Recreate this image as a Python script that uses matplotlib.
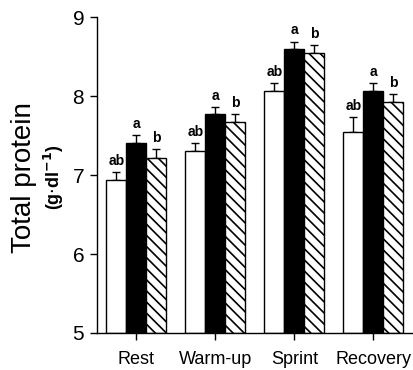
import matplotlib
matplotlib.use("Agg")
import matplotlib.pyplot as plt
import numpy as np

plt.rcParams["font.family"] = ["Liberation Sans", "DejaVu Sans"]
plt.rcParams["hatch.linewidth"] = 1.2

categories = ["Rest", "Warm-up", "Sprint", "Recovery"]
white_vals = [6.94, 7.30, 8.06, 7.54]
white_err = [0.10, 0.10, 0.10, 0.19]
black_vals = [7.40, 7.77, 8.59, 8.06]
black_err = [0.11, 0.09, 0.10, 0.10]
hatch_vals = [7.22, 7.67, 8.54, 7.92]
hatch_err = [0.11, 0.10, 0.10, 0.10]
letters = ["ab", "a", "b"]
yticks = [5, 6, 7, 8, 9]

fig = plt.figure(figsize=(4.14, 3.70), dpi=100)
ax = fig.add_axes([0.2335, 0.10, 0.764, 0.854])

x = np.arange(len(categories))
w = 0.253
series = [
    (white_vals, white_err, "white", ""),
    (black_vals, black_err, "black", ""),
    (hatch_vals, hatch_err, "white", "\\\\\\"),
]
for i, (vals, err, fc, hatch) in enumerate(series):
    pos = x + (i - 1) * w
    ax.bar(pos, np.array(vals) - 5, w, bottom=5, color=fc, edgecolor="black",
           linewidth=1.0, hatch=hatch, zorder=2)
    ax.errorbar(pos, vals, yerr=[np.zeros(len(vals)), err], fmt="none",
                ecolor="black", elinewidth=1.0, capsize=2.8, capthick=1.0, zorder=1)
    for p, v, e in zip(pos, vals, err):
        ax.annotate(letters[i], (p, v + e), xytext=(0, 3), textcoords="offset points",
                    ha="center", va="bottom", fontsize=10, fontweight="bold")

ax.set_xlim(-0.5, 3.5)
ax.set_ylim(5, 9)
ax.set_yticks(yticks)
ax.set_xticks(x)
ax.set_xticklabels(categories, fontsize=13)
ax.tick_params(axis="y", labelsize=15, length=5, width=1, pad=4)
ax.tick_params(axis="x", length=5, width=1, pad=8)
for s in ["top", "right"]:
    ax.spines[s].set_visible(False)
for s in ["left", "bottom"]:
    ax.spines[s].set_linewidth(1.0)

fig.text(0.058, 0.52, "Total protein", rotation=90, fontsize=20,
         ha="center", va="center")
fig.text(0.13, 0.52, r"(g$\cdot$dl$^{\mathbf{-1}}$)", rotation=90, fontsize=13,
         fontweight="bold", ha="center", va="center")

fig.savefig("out.png", dpi=100)
